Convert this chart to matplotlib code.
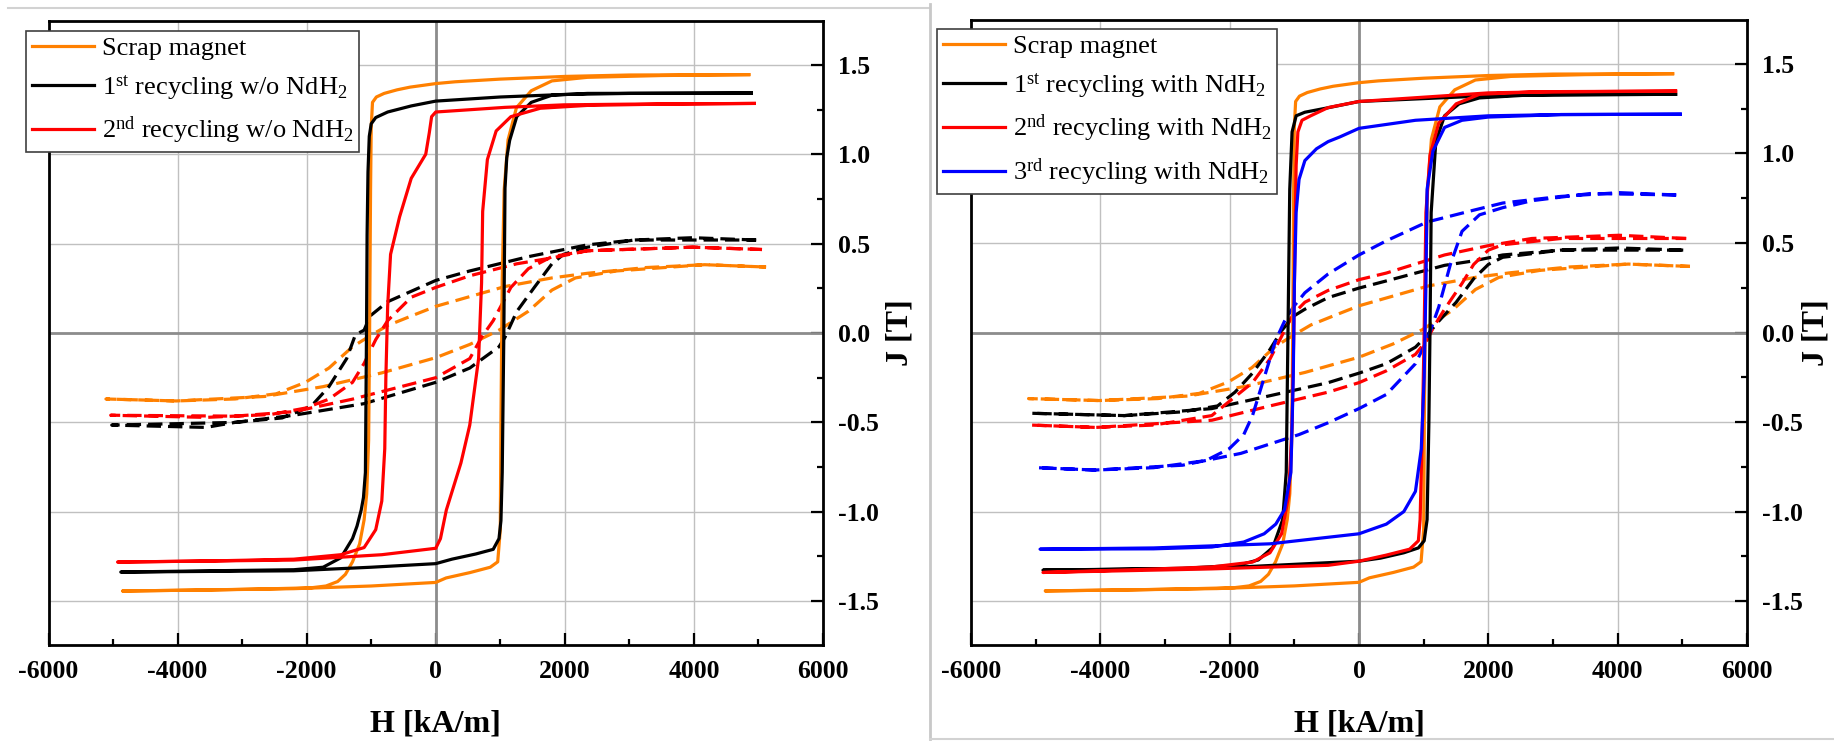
import matplotlib
matplotlib.use("Agg")
import matplotlib.pyplot as plt
from matplotlib.ticker import MultipleLocator, FormatStrFormatter
from matplotlib.lines import Line2D

plt.rcParams['font.family'] = ['Liberation Serif', 'DejaVu Serif']
plt.rcParams['mathtext.fontset'] = 'custom'
plt.rcParams['mathtext.rm'] = 'Liberation Serif'
plt.rcParams['mathtext.it'] = 'Liberation Serif:italic'
plt.rcParams['mathtext.bf'] = 'Liberation Serif:bold'
plt.rcParams['axes.unicode_minus'] = False

# ---------------- data (H in kA/m, J in T) ----------------
# Scrap magnet (same in both panels) - solid loop
scrap_desc_H = [4850, 3000, 2000, 1000, 300, 0, -200, -400, -600, -800, -920, -980, -1000, -1010,
                -1025, -1040, -1070, -1110, -1180, -1290, -1400, -1520, -1700, -1930, -2500, -3500, -4850]
scrap_desc_J = [1.445, 1.443, 1.435, 1.42, 1.405, 1.395, 1.385, 1.375, 1.36, 1.34, 1.32, 1.29, 1.15, 0.8,
                0.0, -0.6, -0.9, -1.045, -1.18, -1.28, -1.35, -1.39, -1.415, -1.425, -1.43, -1.437, -1.443]
scrap_asc_H = [-4850, -3500, -2200, -1000, 0, 160, 530, 845, 960, 1000, 1010, 1030, 1060, 1120,
               1250, 1480, 1800, 2350, 3500, 4850]
scrap_asc_J = [-1.443, -1.437, -1.43, -1.415, -1.395, -1.37, -1.34, -1.31, -1.28, -1.1, -0.5, 0.3, 0.8, 1.08,
               1.26, 1.355, 1.41, 1.43, 1.44, 1.445]
# Scrap magnet - dashed loop
scrapd_desc_H = [5118, 4164, 3255, 2350, 1800, 1073, 0, -380, -745, -1018, -1290, -1655, -2020, -2470,
                 -3110, -4020, -5110]
scrapd_desc_J = [0.369, 0.382, 0.366, 0.334, 0.308, 0.26, 0.149, 0.095, 0.042, -0.016, -0.077, -0.196,
                 -0.276, -0.34, -0.369, -0.38, -0.369]
scrapd_asc_H = [-5110, -4020, -2650, -1745, -836, 0, 527, 980, 1436, 1800, 2164, 2800, 4164, 5118]
scrapd_asc_J = [-0.369, -0.38, -0.355, -0.30, -0.223, -0.138, -0.064, 0.016, 0.122, 0.24, 0.308, 0.347,
                0.382, 0.369]

# 1st recycling w/o NdH2 - solid
a1_desc_H = [4890, 3000, 1980, 1000, 0, -380, -745, -930, -1000, -1030, -1050, -1064, -1073, -1090,
             -1120, -1155, -1220, -1290, -1470, -1745, -2200, -3500, -4880]
a1_desc_J = [1.342, 1.340, 1.334, 1.32, 1.297, 1.27, 1.236, 1.205, 1.17, 1.10, 0.9, 0.546, 0.0, -0.78,
             -0.92, -0.99, -1.08, -1.15, -1.257, -1.31, -1.324, -1.33, -1.337]
a1_asc_H = [-4880, -2200, -1000, 0, 250, 620, 890, 980, 1010, 1030, 1055, 1073, 1100, 1145, 1255,
            1480, 1800, 2350, 3500, 4890]
a1_asc_J = [-1.337, -1.33, -1.31, -1.29, -1.265, -1.236, -1.21, -1.15, -1.05, -0.78, 0.0, 0.81, 0.98,
            1.077, 1.21, 1.29, 1.33, 1.34, 1.341, 1.342]
# 1st recycling w/o NdH2 - dashed
a1d_desc_H = [4964, 3980, 3070, 2350, 1436, 527, 0, -745, -1018, -1110, -1245, -1380, -1655, -1930,
              -2380, -3110, -3560, -5020]
a1d_desc_J = [0.52, 0.533, 0.52, 0.493, 0.427, 0.347, 0.294, 0.175, 0.095, 0.016, -0.01, -0.143, -0.30,
              -0.41, -0.475, -0.50, -0.528, -0.515]
a1d_asc_H = [-5020, -3110, -2200, -1110, 0, 527, 980, 1073, 1255, 1527, 1800, 1980, 2350, 3070, 4964]
a1d_asc_J = [-0.515, -0.50, -0.46, -0.395, -0.276, -0.196, -0.077, -0.024, 0.12, 0.255, 0.387, 0.44,
             0.48, 0.52, 0.52]

# 2nd recycling w/o NdH2 - solid
a2_desc_H = [4936, 3000, 1980, 1073, 0, -64, -100, -155, -380, -560, -700, -745, -773, -790, -836,
             -930, -1110, -1470, -2200, -3500, -4930]
a2_desc_J = [1.284, 1.28, 1.276, 1.262, 1.236, 1.21, 1.12, 1.0, 0.865, 0.65, 0.44, 0.15, -0.25, -0.647,
             -0.94, -1.10, -1.2, -1.24, -1.265, -1.275, -1.281]
a2_asc_H = [-4930, -2200, -836, 0, 73, 164, 390, 527, 664, 710, 727, 800, 936, 1164, 1620, 2350, 3500, 4936]
a2_asc_J = [-1.281, -1.27, -1.24, -1.204, -1.15, -0.99, -0.727, -0.515, -0.143, 0.28, 0.68, 0.97, 1.13,
            1.21, 1.257, 1.273, 1.28, 1.284]
# 2nd recycling w/o NdH2 - dashed
a2d_desc_H = [5055, 3980, 2350, 1800, 1255, 527, 0, -380, -745, -930, -1110, -1290, -1655, -2020,
              -2560, -3560, -5036]
a2d_desc_J = [0.467, 0.48, 0.46, 0.42, 0.387, 0.32, 0.255, 0.2, 0.069, -0.037, -0.17, -0.276, -0.37,
              -0.42, -0.456, -0.472, -0.46]
a2d_asc_H = [-5036, -3110, -2200, -1290, 0, 527, 710, 890, 1164, 1436, 1800, 2350, 3980, 5055]
a2d_asc_J = [-0.46, -0.465, -0.44, -0.37, -0.25, -0.143, -0.024, 0.069, 0.255, 0.36, 0.427, 0.46,
             0.48, 0.467]

# 1st recycling with NdH2 - solid
b1_desc_H = [4896, 3000, 2000, 0, -477, -837, -972, -1035, -1071, -1098, -1125, -1180, -1332, -1557,
             -1872, -2727, -4887]
b1_desc_J = [1.33, 1.327, 1.322, 1.29, 1.255, 1.23, 1.21, 1.12, 0.8, 0.01, -0.78, -1.045, -1.2, -1.27,
             -1.30, -1.317, -1.327]
b1_asc_H = [-4887, -2277, 0, 333, 693, 918, 1008, 1053, 1080, 1098, 1116, 1188, 1323, 1548, 1863, 2673, 4896]
b1_asc_J = [-1.327, -1.317, -1.277, -1.26, -1.23, -1.203, -1.163, -1.045, -0.517, 0.01, 0.67, 1.066,
            1.21, 1.277, 1.31, 1.327, 1.33]
# 1st recycling with NdH2 - dashed
b1d_desc_H = [5014, 4023, 3123, 2223, 1773, 1323, 423, 0, -477, -837, -1017, -1197, -1377, -1647,
              -1917, -2187, -2727, -3627, -5067]
b1d_desc_J = [0.46, 0.472, 0.46, 0.433, 0.40, 0.375, 0.288, 0.248, 0.195, 0.13, 0.09, 0.01, -0.095,
              -0.227, -0.333, -0.41, -0.443, -0.464, -0.451]
b1d_asc_H = [-5067, -3627, -2277, -1377, -477, 0, 423, 873, 1053, 1233, 1503, 1773, 2000, 2223, 3123, 5014]
b1d_asc_J = [-0.451, -0.464, -0.425, -0.353, -0.28, -0.227, -0.174, -0.082, -0.016, 0.063, 0.169,
             0.30, 0.38, 0.42, 0.46, 0.46]

# 2nd recycling with NdH2 - solid
b2_desc_H = [4896, 3000, 2000, 0, -477, -747, -882, -945, -972, -990, -1008, -1035, -1089, -1197,
             -1377, -1647, -2277, -3500, -4887]
b2_desc_J = [1.348, 1.345, 1.338, 1.29, 1.256, 1.21, 1.185, 1.12, 0.934, 0.538, 0.01, -0.517, -0.913,
             -1.124, -1.23, -1.282, -1.309, -1.325, -1.34]
b2_asc_H = [-4887, -2277, -477, 0, 423, 783, 918, 945, 981, 1008, 1035, 1098, 1233, 1503, 1863, 2673, 4896]
b2_asc_J = [-1.34, -1.32, -1.3, -1.277, -1.243, -1.21, -1.163, -1.045, -0.517, 0.01, 0.67, 0.99, 1.17,
            1.277, 1.33, 1.343, 1.348]
# 2nd recycling with NdH2 - dashed
b2d_desc_H = [5059, 4023, 2673, 2000, 1323, 423, 0, -477, -837, -1017, -1152, -1377, -1647, -2007,
              -2277, -3177, -4077, -5067]
b2d_desc_J = [0.525, 0.543, 0.525, 0.485, 0.433, 0.332, 0.295, 0.235, 0.169, 0.103, 0.01, -0.148,
              -0.28, -0.385, -0.464, -0.517, -0.53, -0.517]
b2d_asc_H = [-5067, -4077, -2277, -1377, -477, 0, 423, 873, 1053, 1143, 1323, 1593, 1773, 2000, 2223,
             3123, 5059]
b2d_asc_J = [-0.517, -0.53, -0.49, -0.41, -0.333, -0.28, -0.214, -0.122, -0.042, 0.024, 0.13, 0.274,
             0.38, 0.46, 0.49, 0.525, 0.525]

# 3rd recycling with NdH2 - solid
b3_desc_H = [4968, 3123, 2000, 873, 0, -297, -477, -657, -837, -927, -972, -999, -1017, -1053, -1152,
             -1287, -1467, -1782, -2277, -3177, -4932]
b3_desc_J = [1.219, 1.217, 1.21, 1.185, 1.14, 1.092, 1.066, 1.026, 0.96, 0.855, 0.67, 0.274, -0.253,
             -0.78, -0.99, -1.07, -1.124, -1.17, -1.198, -1.208, -1.21]
b3_asc_H = [-4932, -3177, -1377, 0, 423, 693, 873, 963, 1008, 1035, 1053, 1143, 1323, 1593, 2000, 3123, 4968]
b3_asc_J = [-1.21, -1.203, -1.18, -1.124, -1.07, -1.0, -0.887, -0.65, -0.25, 0.274, 0.8, 1.013, 1.145,
            1.185, 1.203, 1.217, 1.219]
# 3rd recycling with NdH2 - dashed
b3d_desc_H = [4905, 4023, 3123, 2223, 1773, 1053, 423, 0, -477, -837, -1017, -1152, -1287, -1467,
              -1647, -1782, -2007, -2367, -3177, -4077, -4977]
b3d_desc_J = [0.768, 0.781, 0.76, 0.723, 0.683, 0.617, 0.512, 0.433, 0.327, 0.222, 0.142, 0.063,
              -0.042, -0.253, -0.464, -0.57, -0.649, -0.715, -0.755, -0.768, -0.755]
b3d_asc_H = [-4977, -4077, -2727, -1827, -927, -477, 0, 423, 873, 1053, 1233, 1413, 1593, 1863, 2223,
             2673, 3573, 4905]
b3d_asc_J = [-0.755, -0.768, -0.741, -0.675, -0.57, -0.504, -0.425, -0.346, -0.174, -0.042, 0.142,
             0.38, 0.565, 0.657, 0.697, 0.736, 0.776, 0.768]

left_labels = ["Scrap magnet",
               "1$^{\\rm st}$ recycling w/o NdH$_2$",
               "2$^{\\rm nd}$ recycling w/o NdH$_2$"]
right_labels = ["Scrap magnet",
                "1$^{\\rm st}$ recycling with NdH$_2$",
                "2$^{\\rm nd}$ recycling with NdH$_2$",
                "3$^{\\rm rd}$ recycling with NdH$_2$"]
x_ticks = [-6000, -4000, -2000, 0, 2000, 4000, 6000]
y_ticks = [-1.5, -1.0, -0.5, 0.0, 0.5, 1.0, 1.5]

ORANGE, BLACK, RED, BLUE = '#FF8000', '#000000', '#FF0000', '#0000FF'

left_series = [
    (ORANGE, (scrap_desc_H, scrap_desc_J, scrap_asc_H, scrap_asc_J), (scrapd_desc_H, scrapd_desc_J, scrapd_asc_H, scrapd_asc_J)),
    (BLACK, (a1_desc_H, a1_desc_J, a1_asc_H, a1_asc_J), (a1d_desc_H, a1d_desc_J, a1d_asc_H, a1d_asc_J)),
    (RED, (a2_desc_H, a2_desc_J, a2_asc_H, a2_asc_J), (a2d_desc_H, a2d_desc_J, a2d_asc_H, a2d_asc_J)),
]
right_series = [
    (ORANGE, (scrap_desc_H, scrap_desc_J, scrap_asc_H, scrap_asc_J), (scrapd_desc_H, scrapd_desc_J, scrapd_asc_H, scrapd_asc_J)),
    (BLACK, (b1_desc_H, b1_desc_J, b1_asc_H, b1_asc_J), (b1d_desc_H, b1d_desc_J, b1d_asc_H, b1d_asc_J)),
    (RED, (b2_desc_H, b2_desc_J, b2_asc_H, b2_asc_J), (b2d_desc_H, b2d_desc_J, b2d_asc_H, b2d_asc_J)),
    (BLUE, (b3_desc_H, b3_desc_J, b3_asc_H, b3_asc_J), (b3d_desc_H, b3d_desc_J, b3d_asc_H, b3d_asc_J)),
]

W, H = 1834, 741
fig = plt.figure(figsize=(W / 100, H / 100), dpi=100)
fig.patch.set_facecolor('white')

def px_rect(x0, x1, ytop, ybot):
    return [x0 / W, 1 - ybot / H, (x1 - x0) / W, (ybot - ytop) / H]

axL = fig.add_axes(px_rect(48.5, 823, 21, 645))
axR = fig.add_axes(px_rect(971, 1747, 20, 645))

LW = 2.3

def style_axis(ax, ylab_x):
    ax.set_xlim(-6000, 6000)
    ax.set_ylim(-1.745, 1.745)
    ax.set_xticks(x_ticks)
    ax.set_yticks(y_ticks)
    ax.xaxis.set_minor_locator(MultipleLocator(1000))
    ax.yaxis.set_minor_locator(MultipleLocator(0.25))
    ax.yaxis.set_major_formatter(FormatStrFormatter('%.1f'))
    ax.yaxis.tick_right()
    ax.yaxis.set_label_position('right')
    ax.tick_params(which='both', direction='in', top=False, left=False, right=True, bottom=True,
                   labelleft=False, labelright=True, width=1.6, labelsize=18.5, pad=11)
    ax.tick_params(which='major', length=8.5)
    ax.tick_params(which='minor', length=4.5)
    for lab in ax.get_xticklabels() + ax.get_yticklabels():
        lab.set_fontweight('bold')
    for sp in ax.spines.values():
        sp.set_linewidth(2.0)
        sp.set_color('black')
    ax.grid(True, which='major', color='#C0C0C0', linewidth=1.0, zorder=0)
    ax.set_axisbelow(True)
    ax.axhline(0, color='#8C8C8C', linewidth=2.0, zorder=1)
    ax.axvline(0, color='#8C8C8C', linewidth=2.0, zorder=1)
    ax.set_xlabel('H [kA/m]', fontsize=23, fontweight='bold', va='center')
    ax.xaxis.set_label_coords(0.5, -0.127)
    ax.set_ylabel('J [T]', fontsize=23, fontweight='bold', rotation=90, va='center', ha='center')
    ax.yaxis.set_label_coords(ylab_x, 0.5)

def draw(ax, series, labels):
    handles = []
    for color, solid, dashed in series:
        dH, dJ, aH, aJ = dashed
        ax.plot(list(dH) + list(aH), list(dJ) + list(aJ), color=color, lw=LW,
                dashes=(4.5, 2.2), zorder=3)
    for (color, solid, dashed), lab in zip(series, labels):
        dH, dJ, aH, aJ = solid
        ln, = ax.plot(list(dH) + list(aH), list(dJ) + list(aJ), color=color, lw=LW, zorder=4, label=lab)
        handles.append(ln)
    return handles

hL = draw(axL, left_series, left_labels)
hR = draw(axR, right_series, right_labels)
style_axis(axL, 1.0995)
style_axis(axR, 1.0885)

leg_kw = dict(loc='upper left', fontsize=19, frameon=True, fancybox=False, borderaxespad=0,
              handlelength=2.35, handletextpad=0.3, borderpad=0.22, labelspacing=0.48,
              edgecolor='#404040', framealpha=1)
legL = axL.legend(handles=hL, bbox_to_anchor=(26 / W, 1 - 31 / H), bbox_transform=fig.transFigure, **leg_kw)
legR = axR.legend(handles=hR, bbox_to_anchor=(937 / W, 1 - 29 / H), bbox_transform=fig.transFigure, **leg_kw)
for leg in (legL, legR):
    leg.get_frame().set_linewidth(1.2)
    leg.set_zorder(10)

# panel frame lines
fig.add_artist(Line2D([8 / W, 930 / W], [1 - 8 / H, 1 - 8 / H], transform=fig.transFigure,
                      color='#D2D2D2', lw=1.5))
fig.add_artist(Line2D([930 / W, 930 / W], [1 - 4 / H, 1 - 739 / H], transform=fig.transFigure,
                      color='#C8C8C8', lw=2.0))
fig.add_artist(Line2D([930 / W, 1834 / W], [1 - 739 / H, 1 - 739 / H], transform=fig.transFigure,
                      color='#D2D2D2', lw=1.5))

fig.savefig('out.png', dpi=100, facecolor='white')
